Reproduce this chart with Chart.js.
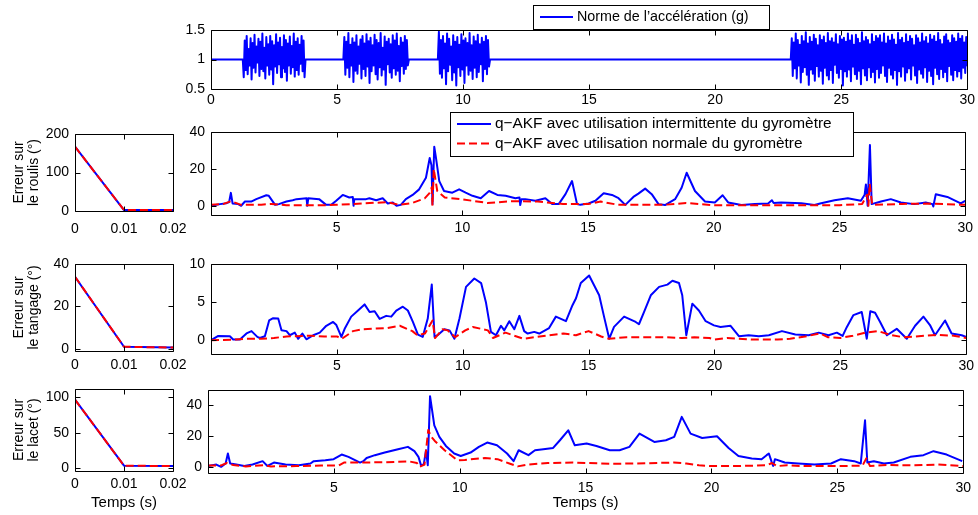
<!DOCTYPE html>
<html>
<head>
<meta charset="utf-8">
<script src="https://cdn.jsdelivr.net/npm/chart.js@4.4.0/dist/chart.umd.min.js"></script>
<style>
  body { margin: 0; background: #fff; }
  #wrap { position: relative; width: 978px; height: 515px; }
  canvas { position: absolute; left: 0; top: 0; }
</style>
</head>
<body>
<div id="wrap">
  <canvas id="cAcc" width="978" height="515"></canvas>
  <canvas id="cRoulisInit" width="978" height="515"></canvas>
  <canvas id="cRoulis" width="978" height="515"></canvas>
  <canvas id="cTangageInit" width="978" height="515"></canvas>
  <canvas id="cTangage" width="978" height="515"></canvas>
  <canvas id="cLacetInit" width="978" height="515"></canvas>
  <canvas id="cLacet" width="978" height="515"></canvas>
</div>
<script>
// ---- données ----
const labelAcc = "Norme de l\u2019acc\u00e9l\u00e9ration (g)";
const labelBleu = "q\u2212AKF avec utilisation intermittente du gyrom\u00e8tre";
const labelRouge = "q\u2212AKF avec utilisation normale du gyrom\u00e8tre";

const tempsTicks = [0, 5, 10, 15, 20, 25, 30];
const initTicks = [0, 0.01, 0.02];
const accTicksY = [0.5, 1, 1.5];
const roulisInitTicksY = [0, 100, 200];
const tangageInitTicksY = [0, 20, 40];
const lacetInitTicksY = [0, 50, 100];
const roulisTicksY = [0, 20, 40];
const tangageTicksY = [0, 5, 10];
const lacetTicksY = [0, 20, 40];

// accélération : niveau au repos et rafales (échantillons répartis sur chaque rafale)
const accRepos = 1.0;
const accBurstStart = [1.26, 5.25, 9.0, 23.0];
const accBurstEnd = [3.75, 7.85, 11.07, 30.0];
const accBurst1 = [1.0,0.7,1.32,0.82,1.4,0.75,1.18,0.9,1.36,0.66,
  1.28,0.86,1.42,0.78,1.22,0.95,1.35,0.72,1.3,0.84,
  1.44,0.8,1.2,0.68,1.38,0.9,1.26,0.74,1.4,0.83,
  1.31,0.58,1.24,0.88,1.43,0.77,1.29,0.92,1.37,0.7,
  1.21,0.85,1.41,0.79,1.33,0.64,1.27,0.9,1.39,0.76,
  1.23,0.87,1.44,0.71,1.3,0.82,1.36,0.74,1.25,0.93,
  1.4,0.8,1.32,0.7,1.0];
const accBurst2 = [1.0,1.38,0.74,1.3,0.86,1.45,0.7,1.25,0.9,1.36,
  0.62,1.29,0.81,1.41,0.76,1.22,0.93,1.34,0.68,1.4,
  0.84,1.27,0.72,1.43,0.88,1.31,0.6,1.37,0.8,1.24,
  0.9,1.42,0.75,1.33,0.66,1.28,0.87,1.45,0.73,1.2,
  0.83,1.39,0.57,1.3,0.92,1.35,0.78,1.26,0.69,1.41,
  0.85,1.32,0.74,1.44,0.81,1.23,0.63,1.37,0.89,1.29,
  0.76,1.4,0.84,1.33,0.9,1.0];
const accBurst3 = [1.0,1.47,0.76,1.33,0.69,1.4,0.85,1.27,0.58,1.44,
  0.8,1.35,0.91,1.22,0.65,1.41,0.78,1.3,0.56,1.38,
  0.87,1.25,0.72,1.43,0.83,1.32,0.6,1.36,0.9,1.28,
  0.74,1.45,0.81,1.24,0.67,1.39,0.86,1.31,0.7,1.42,
  0.79,1.26,0.92,1.37,0.63,1.3,0.84,1.4,0.75,1.33,
  0.88,1.0];
const accBurst4 = [1.0,1.36,0.72,1.29,0.85,1.44,0.68,1.33,0.9,1.25,
  0.61,1.4,0.79,1.31,0.87,1.46,0.74,1.27,0.57,1.38,
  0.83,1.3,0.76,1.42,0.64,1.35,0.89,1.24,0.71,1.41,
  0.81,1.33,0.59,1.39,0.86,1.28,0.73,1.45,0.66,1.31,
  0.82,1.36,0.6,1.29,0.91,1.43,0.77,1.26,0.69,1.4,
  0.84,1.34,0.56,1.37,0.8,1.3,0.71,1.44,0.83,1.32,
  0.63,1.41,0.88,1.25,0.75,1.42,0.67,1.35,0.81,1.28,
  0.58,1.46,0.85,1.31,0.73,1.38,0.65,1.33,0.87,1.26,
  0.7,1.43,0.79,1.3,0.61,1.4,0.84,1.36,0.69,1.41,
  0.77,1.29,0.9,1.44,0.72,1.27,0.62,1.39,0.86,1.32,
  0.74,1.42,0.68,1.34,0.82,1.25,0.57,1.45,0.8,1.33,
  0.71,1.37,0.88,1.28,0.64,1.43,0.78,1.3,0.85,1.4,
  0.66,1.35,0.9,1.24,0.73,1.41,0.6,1.36,0.83,1.29,
  0.76,1.44,0.69,1.31,0.87,1.38,0.62,1.27,0.81,1.42,
  0.72,1.34,0.58,1.4,0.86,1.3,0.75,1.45,0.67,1.33,
  0.84,1.26,0.7,1.39,0.79,1.43,0.63,1.32,0.89,1.28,
  0.74,1.41,0.65,1.36,0.82,1.3,0.71,1.44,0.8,1.35,
  0.68,1.4,0.86,1.29,0.77,1.38,0.9];

// début de simulation (0 à 0.02 s)
const initT = [0, 0.01, 0.02];
const roulisInitBleu = [167, 2.5, 2.5];
const roulisInitRouge = [167, 2.5, 2.5];
const tangageInitBleu = [34, 1.0, 0.6];
const tangageInitRouge = [34, 1.0, 0.6];
const lacetInitBleu = [97, 3.5, 3.0];
const lacetInitRouge = [97, 3.5, 3.0];

// erreurs sur 30 s : [temps, erreur]
const roulisBleu = [[0,0],[0.36,0.9],[0.62,1.4],[0.72,2],[0.79,7],[0.86,1.2],[1.08,0.9],[1.2,0],[1.35,2.3],[1.6,2.3],[1.8,3.6],[2.2,5.7],[2.3,5.4],[2.55,0.5],[2.7,0.9],[3.0,2.3],[3.25,3.0],[3.4,3.6],[3.8,4.1],[3.83,0],[3.87,4.1],[4.3,3.6],[4.58,0.5],[4.78,0.5],[4.98,2.7],[5.24,5.9],[5.5,4.5],[5.64,4.8],[5.67,0],[5.7,3.6],[6.17,3.6],[6.3,4.1],[6.57,3.0],[6.83,4.1],[7.03,1.25],[7.23,1.8],[7.38,0],[7.55,0.5],[7.75,3.6],[8.02,5.9],[8.28,8.9],[8.55,15.2],[8.7,25.9],[8.77,22],[8.81,0.9],[8.88,32],[8.94,26.8],[9.08,13.4],[9.27,8],[9.6,7.1],[9.87,8.9],[10.13,7.1],[10.4,5.4],[10.73,4.1],[11.06,8],[11.39,5.9],[11.72,5.4],[12.11,4.1],[12.27,4.5],[12.3,0.4],[12.35,3.6],[12.5,3.6],[12.9,2.7],[13.3,4.1],[13.57,0.9],[13.83,0.9],[14.1,6.3],[14.36,13.4],[14.56,0.9],[14.69,0.5],[15.02,1.25],[15.29,2.7],[15.62,6.8],[15.95,5.9],[16.21,4.1],[16.48,0.5],[16.8,4.8],[17.0,6.6],[17.27,9.3],[17.53,6.3],[17.8,0.9],[18.06,0.4],[18.46,3.6],[18.72,9.8],[18.92,17.9],[19.25,8],[19.65,2.3],[20.04,1.8],[20.35,5.7],[20.57,1.8],[21.1,0.4],[21.63,0.9],[22.16,1.25],[22.31,3.0],[22.38,1.5],[22.68,1.8],[23.48,1.4],[24.0,0.4],[24.27,1.4],[24.8,3.0],[25.33,4.1],[25.85,2.7],[26.0,6],[26.05,11.6],[26.12,0],[26.21,33],[26.28,0.9],[26.65,2.3],[27.04,3.6],[27.44,1.8],[27.97,0.9],[28.43,1.8],[28.7,0.9],[28.73,-0.4],[28.83,6.3],[29.29,4.8],[29.82,1.25],[30,2.7]];
const roulisRouge = [[0,0.5],[0.5,1],[0.8,2.5],[1.2,0.5],[2.0,0.6],[2.4,1.0],[3.0,0.3],[4.5,0.3],[5.0,0.5],[6.0,1.2],[7.0,2.0],[7.5,0.5],[8.0,1.5],[8.5,4],[8.7,7],[8.78,10],[8.81,0],[8.86,20],[9.0,8],[9.3,4.5],[10.0,3.5],[11.0,1.5],[12.0,2.5],[13.0,2.3],[14.0,1.0],[15.0,1.0],[15.5,2.3],[16.2,0.5],[18.0,0.5],[18.9,1.5],[20.0,0.3],[25.0,0.3],[25.9,1.0],[26.1,6],[26.15,0],[26.2,12],[26.3,0.5],[27.5,1.0],[28.5,1.2],[30,0.5]];

const tangageBleu = [[0,0],[0.29,0.57],[0.75,0.53],[0.88,0.1],[1.15,0.1],[1.41,0.9],[1.61,1.2],[1.84,0.44],[1.94,0.3],[2.14,0.53],[2.31,2.6],[2.47,2.9],[2.67,2.85],[2.8,1.3],[3.0,1.2],[3.13,0.66],[3.33,1.0],[3.46,0.2],[3.63,0.88],[3.79,0.13],[4.06,0.66],[4.32,1.0],[4.58,1.9],[4.85,2.4],[4.98,2.0],[5.18,0.44],[5.31,1.5],[5.57,3.1],[5.84,3.9],[6.1,4.7],[6.3,3.7],[6.5,3.8],[6.7,2.8],[6.96,3.2],[7.16,3.1],[7.36,3.9],[7.62,4.4],[7.82,3.9],[8.02,2.4],[8.22,0.75],[8.41,0.44],[8.61,2.85],[8.77,7.3],[8.88,0.44],[9.0,0.66],[9.27,1.45],[9.47,1.3],[9.67,0.2],[9.87,2.85],[10.13,7.0],[10.46,8.1],[10.73,7.5],[10.92,5.0],[11.12,1.1],[11.32,0.66],[11.52,1.9],[11.65,1.3],[11.85,2.5],[12.05,1.45],[12.25,3.2],[12.44,1.2],[12.58,0.88],[12.84,1.1],[13.04,0.88],[13.43,1.6],[13.7,3.1],[14.1,2.5],[14.36,4.6],[14.5,5.5],[14.69,7.5],[15.02,8.5],[15.42,5.9],[15.62,3.0],[15.82,0.2],[16.01,1.75],[16.41,3.1],[16.87,2.4],[17.0,2.1],[17.2,3.7],[17.47,5.9],[17.8,7.0],[18.13,7.3],[18.33,7.8],[18.59,7.5],[18.72,5.9],[18.88,0.66],[19.12,4.8],[19.38,3.9],[19.65,2.5],[19.98,1.95],[20.24,1.75],[20.64,1.9],[20.97,0.53],[21.36,0.66],[21.76,0.53],[22.16,0.66],[22.68,1.2],[23.21,0.75],[23.74,0.66],[24.14,1.0],[24.53,0.66],[24.86,1.0],[25.09,0.57],[25.26,1.75],[25.52,3.3],[25.85,3.7],[26.05,0.2],[26.19,3.8],[26.38,3.6],[26.58,2.4],[26.85,0.66],[27.24,1.5],[27.64,0.2],[27.97,1.9],[28.3,3.1],[28.56,2.0],[28.76,0.66],[29.16,2.6],[29.42,0.88],[29.82,0.66],[30,0.44]];
const tangageRouge = [[0,0],[1,0.1],[1.5,0.2],[2,0.2],[2.5,0.3],[3,0.5],[4,0.6],[4.5,0.5],[5,0.5],[5.2,0.2],[5.64,1.2],[6.04,1.45],[7,1.6],[7.5,1.9],[8,1.2],[8.2,0.66],[8.5,0.9],[8.8,2.6],[8.9,0.3],[9.2,1.45],[9.4,1.3],[9.7,0.4],[10.1,1.3],[10.4,1.75],[11,1.3],[11.2,0.3],[11.7,1.0],[12.4,0.2],[13.3,0.6],[14,0.88],[14.5,0.66],[15.0,1.2],[15.5,0.5],[15.8,0.2],[16.5,0.4],[18,0.4],[18.7,0.3],[19.2,0.4],[19.8,0.3],[20.0,0.1],[20.5,0.3],[21.5,0.1],[22.5,0.1],[23.0,0.2],[23.6,0.5],[24.2,0.9],[24.5,0.4],[25.0,0.3],[25.5,0.6],[26.0,1.0],[26.5,1.2],[27.0,0.7],[27.5,0.4],[28,0.5],[28.8,0.7],[29.5,0.6],[30,0.3]];

const lacetBleu = [[0,0.6],[0.33,1.5],[0.52,0],[0.7,2.2],[0.79,8.7],[0.88,2.2],[1.12,1.5],[1.44,0.6],[1.77,1.5],[2.17,3.7],[2.36,0.6],[2.62,2.8],[3.08,1.5],[3.61,1.1],[4.07,2.2],[4.2,3.7],[4.66,4.3],[4.99,5.0],[5.31,8.0],[5.58,6.5],[6.04,2.8],[6.17,3.7],[6.3,5.8],[6.63,7.6],[7.02,9.3],[7.55,11.5],[7.94,13],[8.2,10.2],[8.36,6.5],[8.46,1.1],[8.57,1.5],[8.66,10.8],[8.73,1.1],[8.82,46],[8.99,27],[9.19,19.5],[9.45,13.6],[9.78,8.7],[10.04,7.1],[10.43,9.3],[10.76,13],[11.09,15.8],[11.48,14.1],[11.88,8.7],[12.14,3.7],[12.34,10.8],[12.73,7.6],[12.99,10.8],[13.32,11.5],[13.71,12.3],[13.98,17.3],[14.31,23.8],[14.57,14],[15.04,15.2],[15.43,13.6],[15.96,10.8],[16.35,10.8],[16.74,13],[17.14,21.6],[17.73,16.2],[18.19,17.3],[18.52,19.5],[18.82,32.5],[19.17,21.6],[19.63,18.8],[20.22,19.9],[20.68,12.3],[21.07,7.1],[21.6,5.4],[21.99,5.0],[22.19,7.6],[22.28,8.7],[22.39,3.2],[22.45,0.6],[22.52,5.0],[22.91,2.8],[23.44,2.2],[24.09,1.5],[24.75,2.2],[25.14,5.0],[25.67,3.7],[25.93,2.2],[26.1,30.3],[26.19,2.8],[26.45,3.7],[26.85,2.2],[27.24,2.8],[27.9,6.5],[28.42,7.6],[28.82,10.2],[29.34,8.0],[29.96,3.7]];
const lacetRouge = [[0,0.8],[0.5,0.8],[0.75,2.5],[1.0,1.2],[1.5,0.3],[2.2,1.0],[2.5,0.3],[3.5,0.5],[4.5,0.8],[5.2,1.0],[5.4,2.8],[6,2.8],[7,3],[8,3.5],[8.3,2.5],[8.4,0],[8.6,1.5],[8.75,24],[8.85,20],[9.0,17],[9.4,10.8],[9.9,4.3],[10.2,4.5],[11,5.8],[11.5,5],[12.0,2],[12.3,0.3],[12.7,1.5],[13.5,2.5],[14.5,2.8],[15,2.5],[16,2],[17,2.2],[18.5,2.8],[19,2.2],[19.5,1.0],[20,0.5],[21,0.5],[22.2,1.0],[22.4,2.5],[22.6,0.5],[23,1.0],[23.5,0.5],[25,0.5],[26,0.8],[26.15,5.5],[26.3,0.5],[27,1.2],[28,1.0],[29,1.5],[30,0.5]];

// ---- mise en page ----
const W = 978, H = 515;
const FONT = "'Liberation Sans', Arial, Helvetica, sans-serif";
Chart.defaults.font.family = FONT;
Chart.defaults.font.size = 14;
Chart.defaults.color = '#000';

const BLEU = '#0000ff', ROUGE = '#ff0000';

// cadre noir + graduations vers l'intérieur sur les 4 côtés (style MATLAB)
const framePlugin = {
  id: 'frame',
  afterDraw(chart) {
    const { ctx, chartArea: a, scales } = chart;
    const L = Math.round(a.left) + 0.5, R = Math.round(a.right) + 0.5;
    const T = Math.round(a.top) + 0.5, B = Math.round(a.bottom) + 0.5;
    const tl = 5;
    ctx.save();
    ctx.strokeStyle = '#000';
    ctx.lineWidth = 1;
    ctx.beginPath();
    ctx.rect(L, T, R - L, B - T);
    scales.x.ticks.forEach(t => {
      const px = Math.round(scales.x.getPixelForValue(t.value)) + 0.5;
      ctx.moveTo(px, B); ctx.lineTo(px, B - tl);
      ctx.moveTo(px, T); ctx.lineTo(px, T + tl);
    });
    scales.y.ticks.forEach(t => {
      const py = Math.round(scales.y.getPixelForValue(t.value)) + 0.5;
      ctx.moveTo(L, py); ctx.lineTo(L + tl, py);
      ctx.moveTo(R, py); ctx.lineTo(R - tl, py);
    });
    ctx.stroke();
    ctx.restore();
  }
};

// légende encadrée posée sur le graphique
const boxLegendPlugin = {
  id: 'boxLegend',
  afterDraw(chart, args, opts) {
    if (!opts || !opts.box) return;
    const { ctx } = chart;
    const b = opts.box;
    ctx.save();
    ctx.fillStyle = '#fff';
    ctx.fillRect(b[0], b[1], b[2] - b[0], b[3] - b[1]);
    ctx.strokeStyle = '#000';
    ctx.lineWidth = 1;
    ctx.strokeRect(b[0] + 0.5, b[1] + 0.5, b[2] - b[0], b[3] - b[1]);
    chart.data.datasets.forEach((ds, i) => {
      const y = opts.rows[i];
      ctx.strokeStyle = ds.borderColor;
      ctx.lineWidth = 2;
      ctx.setLineDash(ds.borderDash || []);
      ctx.beginPath();
      ctx.moveTo(opts.lineX[0], y);
      ctx.lineTo(opts.lineX[1], y);
      ctx.stroke();
      ctx.setLineDash([]);
      ctx.fillStyle = '#000';
      ctx.font = opts.size + 'px ' + FONT;
      ctx.textBaseline = 'middle';
      ctx.fillText(ds.label, opts.textX, y);
    });
    ctx.restore();
  }
};

function pts(pairs) { return pairs.map(p => ({ x: p[0], y: p[1] })); }
function ptsT(t, v) { return t.map((x, i) => ({ x: x, y: v[i] })); }

function serieBleu(data, label) {
  return { label: label, data: data, borderColor: BLEU, borderWidth: 2, order: 1 };
}
function serieRouge(data, label) {
  return { label: label, data: data, borderColor: ROUGE, borderWidth: 2, borderDash: [8, 4], order: 0 };
}

function panel(id, o) {
  const r = o.rect;
  const yw = r.l - (o.padL || 0);
  const xh = o.xTitle ? 513 - r.b : 25;
  return new Chart(document.getElementById(id), {
    type: 'line',
    data: { datasets: o.datasets },
    options: {
      responsive: false,
      animation: false,
      events: [],
      layout: { padding: { left: o.padL || 0, top: r.t, right: W - r.r, bottom: H - r.b - xh } },
      elements: { point: { radius: 0 }, line: { tension: 0, borderJoinStyle: 'round' } },
      plugins: {
        legend: { display: false },
        tooltip: { enabled: false },
        boxLegend: o.legend || {}
      },
      scales: {
        x: {
          type: 'linear', min: o.xMin, max: o.xMax,
          grid: { display: false, drawTicks: false },
          border: { display: false },
          afterBuildTicks: s => { s.ticks = o.xTicks.map(v => ({ value: v })); },
          afterFit: s => { s.height = xh; },
          ticks: {
            padding: o.xPad, maxRotation: 0, autoSkip: false,
            callback: v => (o.hideZero && v === 0) ? '' : String(v)
          },
          title: o.xTitle ? { display: true, text: o.xTitle, font: { size: 15 }, padding: { top: 0, bottom: 1 } } : { display: false }
        },
        y: {
          min: o.yMin, max: o.yMax,
          grid: { display: false, drawTicks: false },
          border: { display: false },
          afterBuildTicks: s => { s.ticks = o.yTicks.map(v => ({ value: v })); },
          afterFit: s => { s.width = yw; },
          ticks: { padding: 6, autoSkip: false, callback: v => String(v) },
          title: o.yTitle ? { display: true, text: o.yTitle, font: { size: 14, lineHeight: 1.1 }, padding: { top: 11, bottom: 0 } } : { display: false }
        }
      }
    },
    plugins: [framePlugin, boxLegendPlugin]
  });
}

// accélération
const accData = [{ x: 0, y: accRepos }];
[accBurst1, accBurst2, accBurst3, accBurst4].forEach((vals, k) => {
  const t0 = accBurstStart[k], t1 = accBurstEnd[k];
  vals.forEach((v, i) => accData.push({ x: t0 + (t1 - t0) * i / (vals.length - 1), y: v }));
});
accData.push({ x: 30, y: accRepos });

panel('cAcc', {
  rect: { l: 211, t: 30, r: 968, b: 89 },
  datasets: [{ label: labelAcc, data: accData, borderColor: BLEU, borderWidth: 2 }],
  xMin: 0, xMax: 30, xTicks: tempsTicks, xPad: 3,
  yMin: 0.5, yMax: 1.5, yTicks: accTicksY,
  legend: { box: [533, 5, 769, 29], rows: [17], lineX: [540, 573], textX: 577, size: 14.3 }
});

panel('cRoulisInit', {
  rect: { l: 75, t: 134, r: 173, b: 211 },
  datasets: [serieBleu(ptsT(initT, roulisInitBleu), labelBleu), serieRouge(ptsT(initT, roulisInitRouge), labelRouge)],
  xMin: 0, xMax: 0.02, xTicks: initTicks, xPad: 10,
  yMin: 0, yMax: 200, yTicks: roulisInitTicksY,
  yTitle: ['Erreur sur', 'le roulis (\u00b0)']
});

panel('cRoulis', {
  rect: { l: 211, t: 132, r: 968, b: 215 },
  datasets: [serieBleu(pts(roulisBleu), labelBleu), serieRouge(pts(roulisRouge), labelRouge)],
  xMin: 0, xMax: 30, xTicks: tempsTicks, xPad: 5, hideZero: true,
  yMin: -5, yMax: 40, yTicks: roulisTicksY,
  legend: { box: [450, 112, 853, 156], rows: [124, 143.5], lineX: [457, 491], textX: 495, size: 15.4 }
});

panel('cTangageInit', {
  rect: { l: 75, t: 264, r: 173, b: 351 },
  datasets: [serieBleu(ptsT(initT, tangageInitBleu), labelBleu), serieRouge(ptsT(initT, tangageInitRouge), labelRouge)],
  xMin: 0, xMax: 0.02, xTicks: initTicks, xPad: 6,
  yMin: -1, yMax: 40, yTicks: tangageInitTicksY,
  yTitle: ['Erreur sur', 'le tangage (\u00b0)']
});

panel('cTangage', {
  rect: { l: 211, t: 264, r: 967, b: 354 },
  datasets: [serieBleu(pts(tangageBleu), labelBleu), serieRouge(pts(tangageRouge), labelRouge)],
  xMin: 0, xMax: 30, xTicks: tempsTicks, xPad: 4, hideZero: true,
  yMin: -1.8, yMax: 10, yTicks: tangageTicksY
});

panel('cLacetInit', {
  rect: { l: 75, t: 389, r: 173, b: 471 },
  datasets: [serieBleu(ptsT(initT, lacetInitBleu), labelBleu), serieRouge(ptsT(initT, lacetInitRouge), labelRouge)],
  xMin: 0, xMax: 0.02, xTicks: initTicks, xPad: 5,
  yMin: -4, yMax: 112, yTicks: lacetInitTicksY,
  yTitle: ['Erreur sur', 'le lacet (\u00b0)'],
  xTitle: 'Temps (s)'
});

panel('cLacet', {
  rect: { l: 208, t: 390, r: 969, b: 473 },
  datasets: [serieBleu(pts(lacetBleu), labelBleu), serieRouge(pts(lacetRouge), labelRouge)],
  xMin: 0, xMax: 30, xTicks: tempsTicks, xPad: 7, hideZero: true,
  yMin: -4, yMax: 50, yTicks: lacetTicksY,
  xTitle: 'Temps (s)'
});
</script>
</body>
</html>
